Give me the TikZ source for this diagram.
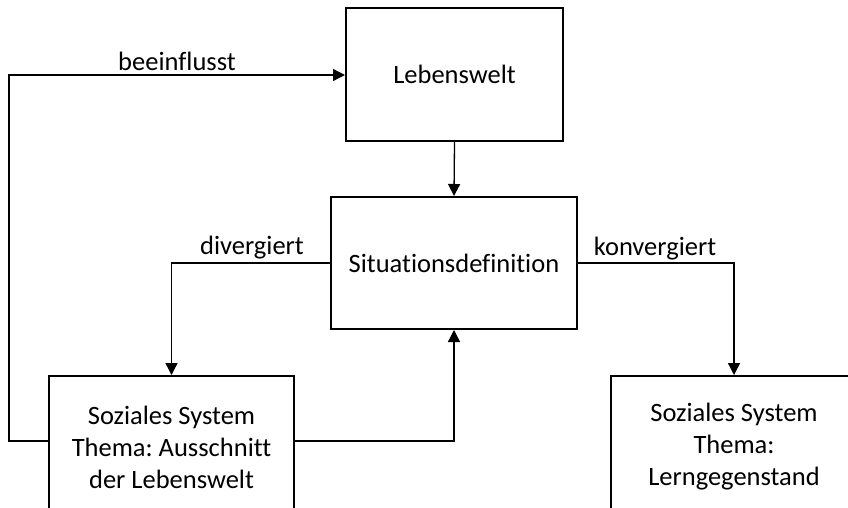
\documentclass[tikz,border=0pt]{standalone}
\usepackage{fontspec}
\setmainfont[Ligatures=CommonOff]{Carlito}
\frenchspacing
\usetikzlibrary{arrows.meta}
\begin{document}
\begin{tikzpicture}[x=1pt,y=-1pt,
  box/.style={draw=black,line width=2pt,rectangle,align=center,inner sep=0pt,
    font=\fontsize{26.5}{32}\selectfont},
  conn/.style={draw=black,line width=1.3pt,-{Triangle[length=12pt,width=12pt]}},
  lbl/.style={anchor=base,inner sep=0pt,font=\fontsize{26.5}{32}\selectfont}]
\useasboundingbox (0,0) rectangle (848,508);
\clip (0,0) rectangle (848,508);
\node[box,minimum width=217pt,minimum height=133pt] (L) at (454.5,74.5) {Lebenswelt};
\node[box,minimum width=246pt,minimum height=132pt] (S) at (454,263) {Situationsdefinition};
\node[box,minimum width=245pt,minimum height=142pt] (A) at (171.5,447) {Soziales System\\Thema: Ausschnitt\\der Lebenswelt};
\node[box,minimum width=246pt,minimum height=142pt] (B) at (734,447) {Soziales System\\Thema:\\Lerngegenstand};
\coordinate (aw) at (49,441);
\coordinate (ae) at (294,441);
\coordinate (c1) at (9,441);
\coordinate (c2) at (9,75);
\coordinate (c3) at (454,441);
\draw[conn] (L.south) -- (S.north);
\draw[conn] (S.west) -| (A.north);
\draw[conn] (S.east) -| (B.north);
\draw[conn] (ae) -- (c3) -- (S.south);
\draw[conn] (aw) -- (c1) -- (c2) -- (L.west |- c2);
\node[lbl] (t1) at (177,71) {beeinflusst};
\node[lbl] (t2) at (252,254) {divergiert};
\node[lbl] (t3) at (655,255) {konvergiert};
\end{tikzpicture}
\end{document}
